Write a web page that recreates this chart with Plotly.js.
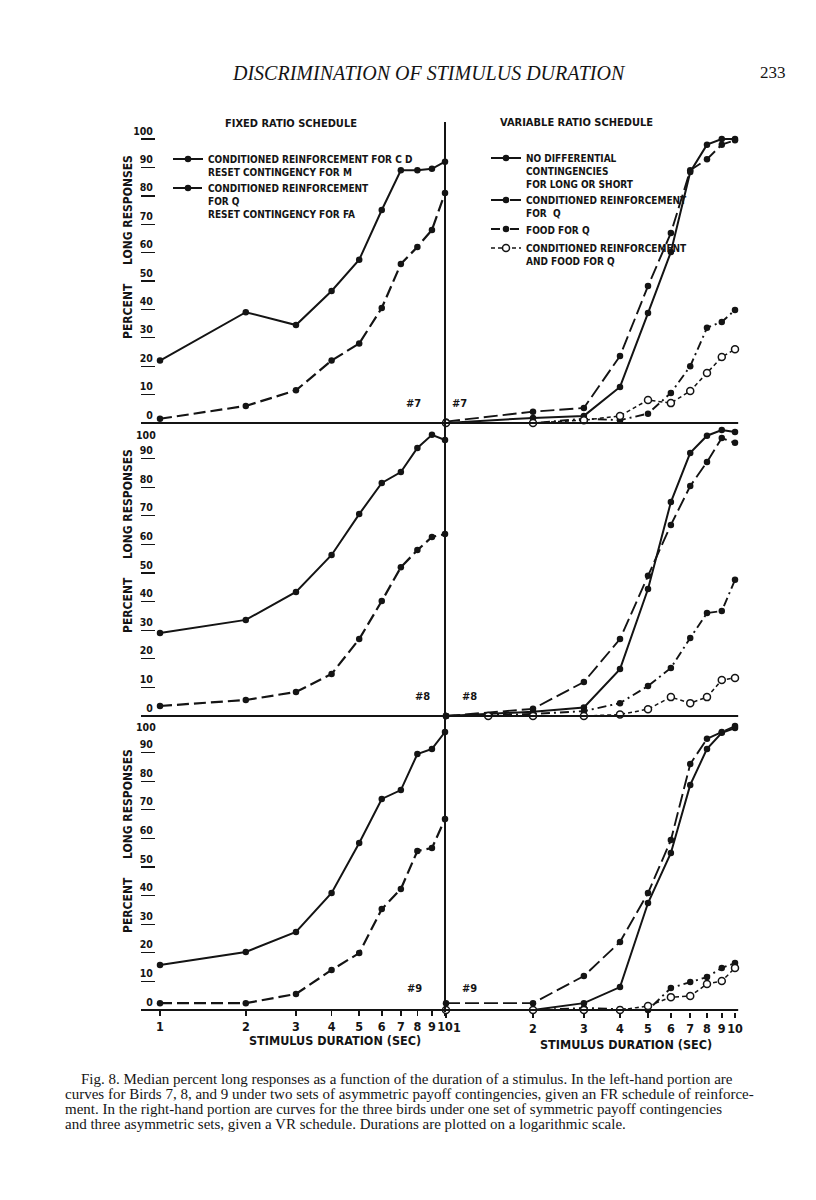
<!DOCTYPE html>
<html>
<head>
<meta charset="utf-8">
<script src="https://cdn.plot.ly/plotly-3.0.1.min.js"></script>
<style>html,body{margin:0;padding:0;background:#fff;}#chart{width:816px;height:1200px;}</style>
</head>
<body>
<div id="chart"></div>
<script>
// ---------------- DATA ----------------
const durations = [1, 2, 3, 4, 5, 6, 7, 8, 9, 10];
const durationsOpen8 = [1.4, 2, 3, 4, 5, 6, 7, 8, 9, 10];
const xTickText = ['1', '2', '3', '4', '5', '6', '7', '8', '9', '10'];
const xTickTextRight = ['', '2', '3', '4', '5', '6', '7', '8', '9', '10'];
const yTickValsTop = [0, 10, 20, 30, 40, 50, 60, 70, 80, 90, 100];
const yTickTextTop = ['0', '10', '20', '30', '40', '50', '60', '70', '80', '90', '100'];
const yTickVals = [0, 10, 20, 30, 40, 50, 60, 70, 80, 90];
const yTickText = ['0', '10', '20', '30', '40', '50', '60', '70', '80', '90'];

// Bird 7
const b7_fr_crCD = [22, 39, 34.5, 46.5, 57.5, 75, 89, 89, 89.5, 92];
const b7_fr_crQ = [1.5, 6, 11.5, 22, 28, 40.5, 56, 62, 68, 81];
const b7_vr_none = [0, 1.8, 2.5, 12.7, 38.7, 60.2, 88.4, 98, 100, 100];
const b7_vr_crQ = [0.5, 4, 5.3, 23.6, 48.2, 66.9, 89, 92.9, 98, 99.6];
const b7_vr_foodQ = [0, 0, 1.5, 1, 3.3, 10.6, 20, 33.5, 35.6, 39.8];
const b7_vr_bothQ = [0, 0, 1, 2.5, 8.1, 7, 11.3, 17.6, 23.2, 26];

// Bird 8
const b8_fr_crCD = [29, 33.6, 43.4, 56.3, 70.6, 81.5, 85.3, 93.7, 98.3, 96.5];
const b8_fr_crQ = [3.5, 5.6, 8.4, 14.7, 26.9, 40.2, 52, 58, 62.6, 63.6];
const b8_vr_none = [0, 1.5, 3, 16.4, 44.4, 74.8, 92, 98, 100, 99.3];
const b8_vr_crQ = [0, 2.5, 11.9, 26.9, 49, 66.8, 80.4, 88.8, 97.2, 95.5];
const b8_vr_foodQ = [0, 0.7, 1.7, 4.5, 10.5, 16.8, 27.3, 36, 36.7, 47.6];
const b8_vr_bothQ = [0, 0, 0, 0.5, 2.4, 6.6, 4.5, 6.6, 12.6, 13.3];

// Bird 9
const b9_fr_crCD = [15.7, 20.3, 27.3, 40.9, 58.4, 73.8, 76.9, 89.5, 91.3, 97.2];
const b9_fr_crQ = [2.4, 2.4, 5.6, 14, 19.9, 35.3, 42.3, 55.6, 56.6, 66.8];
const b9_vr_none = [0, 0, 2.4, 8, 37.4, 54.9, 78.7, 91.3, 96.9, 98.6];
const b9_vr_crQ = [2.4, 2.4, 11.9, 23.8, 40.9, 59.4, 86, 94.8, 97.2, 99.3];
const b9_vr_foodQ = [0, 0, 0.7, 0.3, 0, 7.7, 9.8, 11.5, 14.7, 16.4];
const b9_vr_bothQ = [0, 0, 0, 0, 1.4, 4.5, 4.9, 9.1, 10.1, 14.7];

const legendFR = ['CONDITIONED REINFORCEMENT FOR C D<br>RESET CONTINGENCY FOR M',
                  'CONDITIONED REINFORCEMENT<br>FOR Q<br>RESET CONTINGENCY FOR FA'];
const legendVR = ['NO DIFFERENTIAL<br>CONTINGENCIES<br>FOR LONG OR SHORT',
                  'CONDITIONED REINFORCEMENT<br>FOR  Q',
                  'FOOD FOR Q',
                  'CONDITIONED REINFORCEMENT<br>AND FOOD FOR Q'];

// ---------------- STYLE / LAYOUT HELPERS ----------------
const W = 816, H = 1200;
const INK = '#141414';
const NARROW = '"Liberation Sans Narrow", "DejaVu Sans Condensed", "Arial Narrow", "Liberation Sans", sans-serif';
const SERIF = '"Liberation Serif", "DejaVu Serif", serif';
function px(x) { return x / W; }
function py(y) { return 1 - y / H; }
const X_RANGE = [-0.05, 1.05];
const Y_RANGE = [-5, 109];
function xDomain(x1, x10) { const k = x10 - x1; return [px(x1 + X_RANGE[0] * k), px(x1 + X_RANGE[1] * k)]; }
function yDomain(y0, y100) { const s = (y0 - y100) / 100; return [py(y0 - Y_RANGE[0] * s), py(y0 - Y_RANGE[1] * s)]; }

const LEFT = xDomain(160, 445);
const RIGHT = xDomain(446, 735);
const ROWS = [yDomain(423, 139), yDomain(716, 430), yDomain(1010, 724)];

const STY = {
  solid:  {line: {color: INK, width: 2, dash: 'solid'}, marker: {size: 6.5, color: INK}},
  ldash:  {line: {color: INK, width: 2.2, dash: '12px,5px'}, marker: {size: 6.5, color: INK}},
  vdash:  {line: {color: INK, width: 1.9, dash: '14px,5px'}, marker: {size: 6.5, color: INK}},
  dashdot:{line: {color: INK, width: 1.9, dash: '9px,4px,2px,4px'}, marker: {size: 6.5, color: INK}},
  open:   {line: {color: INK, width: 1.5, dash: '4px,3px'}, marker: {size: 7, color: '#fff', line: {color: INK, width: 1.5}}}
};

let gid = 0;
function tr(x, y, n, style, name, legend) {
  const s = STY[style];
  gid += 1;
  return {
    type: 'scatter', mode: 'lines+markers', x: x, y: y,
    xaxis: 'x' + (n === 1 ? '' : n), yaxis: 'y' + (n === 1 ? '' : n),
    line: s.line, marker: s.marker, cliponaxis: false,
    name: name || '', showlegend: !!legend, legend: legend || 'legend', legendgroup: 'g' + gid
  };
}

const traces = [
  tr(durations, b7_fr_crCD, 1, 'solid', legendFR[0], 'legend'),
  tr(durations, b7_fr_crQ, 1, 'ldash', legendFR[1], 'legend'),
  tr(durations, b7_vr_none, 2, 'solid', legendVR[0], 'legend2'),
  tr(durations, b7_vr_crQ, 2, 'vdash', legendVR[1], 'legend2'),
  tr(durations, b7_vr_foodQ, 2, 'dashdot', legendVR[2], 'legend2'),
  tr(durations, b7_vr_bothQ, 2, 'open', legendVR[3], 'legend2'),

  tr(durations, b8_fr_crCD, 3, 'solid'),
  tr(durations, b8_fr_crQ, 3, 'ldash'),
  tr(durations, b8_vr_none, 4, 'solid'),
  tr(durations, b8_vr_crQ, 4, 'vdash'),
  tr(durations, b8_vr_foodQ, 4, 'dashdot'),
  tr(durationsOpen8, b8_vr_bothQ, 4, 'open'),

  tr(durations, b9_fr_crCD, 5, 'solid'),
  tr(durations, b9_fr_crQ, 5, 'ldash'),
  tr(durations, b9_vr_none, 6, 'solid'),
  tr(durations, b9_vr_crQ, 6, 'vdash'),
  tr(durations, b9_vr_foodQ, 6, 'dashdot'),
  tr(durations, b9_vr_bothQ, 6, 'open')
];

const tickFont = {family: NARROW, size: 10.5, color: INK, weight: 700};
function xAx(dom, anchor, bottomPx, labels) {
  const a = {domain: dom, type: 'log', range: X_RANGE, showgrid: false, zeroline: false, showline: false,
             fixedrange: true};
  if (bottomPx) {
    Object.assign(a, {anchor: 'free', position: py(bottomPx), ticks: 'outside', ticklen: 5, tickwidth: 1.5,
      tickcolor: INK, tickmode: 'array', tickvals: durations, ticktext: labels, tickangle: 0,
      tickfont: {family: NARROW, size: 12.5, color: INK, weight: 700}, showticklabels: true});
  } else {
    Object.assign(a, {anchor: anchor, showticklabels: false, ticks: ''});
  }
  return a;
}
function yAxLeft(dom, vals, text) {
  return {domain: dom, range: Y_RANGE, anchor: 'free', position: px(155), showgrid: false, zeroline: false,
          showline: false, ticks: 'outside', ticklen: 14, tickwidth: 1.4, tickcolor: INK,
          ticklabelposition: 'outside top', ticklabelstandoff: 0, tickmode: 'array', tickvals: vals, ticktext: text,
          tickfont: tickFont, fixedrange: true};
}
function yAxRight(dom, anchor) {
  return {domain: dom, range: Y_RANGE, anchor: anchor, visible: false, fixedrange: true};
}

const shapes = [];
// shared vertical divider
shapes.push({type: 'line', xref: 'paper', yref: 'paper', x0: px(445), x1: px(445), y0: py(122), y1: py(1012),
             line: {color: INK, width: 2}});
// zero baselines for each panel
const dom1 = (0 - X_RANGE[0]) / (X_RANGE[1] - X_RANGE[0]);
const dom10 = (1 - X_RANGE[0]) / (X_RANGE[1] - X_RANGE[0]);
for (let n = 1; n <= 6; n++) {
  const s = n === 1 ? '' : n;
  const isLeft = n % 2 === 1;
  shapes.push({type: 'line', xref: 'x' + s + ' domain', yref: 'y' + s,
               x0: isLeft ? dom1 - 0.02 : dom1, x1: isLeft ? dom10 : dom10 + 0.01, y0: 0, y1: 0,
               line: {color: INK, width: 1.8}});
}

const lab = {family: NARROW, color: INK, weight: 700};
function ann(text, x, y, size, extra) {
  return Object.assign({text: text, xref: 'paper', yref: 'paper', x: px(x), y: py(y), showarrow: false,
                        xanchor: 'center', yanchor: 'middle', font: Object.assign({}, lab, {size: size})}, extra || {});
}
const YT = 'PERCENT\u00a0\u00a0\u00a0\u00a0\u00a0LONG RESPONSES';
const annotations = [
  ann('<i>DISCRIMINATION OF STIMULUS DURATION</i>', 429, 73, 20, {font: {family: SERIF, size: 20, color: INK}}),
  ann('233', 773, 73, 17, {font: {family: SERIF, size: 17, color: INK}}),
  ann('FIXED RATIO SCHEDULE', 291, 123, 11),
  ann('VARIABLE RATIO SCHEDULE', 576, 122, 11),
  ann(YT, 128, 247, 12, {textangle: -90}),
  ann(YT, 128, 541, 12, {textangle: -90}),
  ann(YT, 128, 841, 12, {textangle: -90}),
  // top labels of the two lower rows sit just under the row above
  ann('100', 146, 435, 10.5), ann('100', 146, 727, 10.5),
  // the first duration label of the right-hand axis is lettered clear of the left-hand "10"
  ann('1', 457, 1027, 12.5),
  ann('#7', 413, 403, 11), ann('#7', 459, 403, 11),
  ann('#8', 422, 696, 11), ann('#8', 470, 696, 11),
  ann('#9', 414, 988, 11), ann('#9', 470, 988, 11),
  ann('STIMULUS DURATION (SEC)', 335, 1040, 12.5),
  ann('STIMULUS DURATION (SEC)', 626, 1044, 12.5)
];
const caption = [
  'Fig. 8. Median percent long responses as a function of the duration of a stimulus. In the left-hand portion are',
  'curves for Birds 7, 8, and 9 under two sets of asymmetric payoff contingencies, given an FR schedule of reinforce-',
  'ment. In the right-hand portion are curves for the three birds under one set of symmetric payoff contingencies',
  'and three asymmetric sets, given a VR schedule. Durations are plotted on a logarithmic scale.'
];
caption.forEach((t, i) => {
  annotations.push({text: t, xref: 'paper', yref: 'paper', x: px(i === 0 ? 79 : 63), y: py(1079 + i * 15),
    xanchor: 'left', yanchor: 'middle', showarrow: false, font: {family: SERIF, size: 15, color: INK}});
});

const legendBase = {bgcolor: 'rgba(0,0,0,0)', borderwidth: 0, xanchor: 'left', yanchor: 'top',
                    font: {family: NARROW, size: 10, color: INK, weight: 700}, itemwidth: 30, valign: 'top',
                    traceorder: 'normal', itemclick: false, itemdoubleclick: false};

const layout = {
  width: W, height: H, margin: {l: 0, r: 0, t: 0, b: 0},
  paper_bgcolor: '#fff', plot_bgcolor: 'rgba(0,0,0,0)',
  xaxis: xAx(LEFT, 'y'), yaxis: yAxLeft(ROWS[0], yTickValsTop, yTickTextTop),
  xaxis2: xAx(RIGHT, 'y2'), yaxis2: yAxRight(ROWS[0], 'x2'),
  xaxis3: xAx(LEFT, 'y3'), yaxis3: yAxLeft(ROWS[1], yTickVals, yTickText),
  xaxis4: xAx(RIGHT, 'y4'), yaxis4: yAxRight(ROWS[1], 'x4'),
  xaxis5: xAx(LEFT, 'y5', 1010, xTickText), yaxis5: yAxLeft(ROWS[2], yTickVals, yTickText),
  xaxis6: xAx(RIGHT, 'y6', 1012, xTickTextRight), yaxis6: yAxRight(ROWS[2], 'x6'),
  shapes: shapes, annotations: annotations,
  legend: Object.assign({}, legendBase, {x: px(168), y: py(146), tracegroupgap: 10}),
  legend2: Object.assign({}, legendBase, {x: px(486), y: py(145), tracegroupgap: 1}),
  showlegend: true
};

Plotly.newPlot('chart', traces, layout, {displayModeBar: false, staticPlot: true});
</script>
</body>
</html>
